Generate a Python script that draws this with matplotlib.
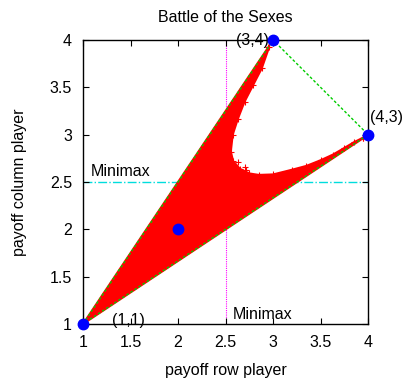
import matplotlib
matplotlib.use('Agg')
import matplotlib.pyplot as plt

plt.rcParams['font.family'] = ['Liberation Sans', 'DejaVu Sans']

# ## Data
# outline of the red payoff region (row payoff, column payoff)
region_x = [1.0, 2.95, 2.96, 2.88, 2.79, 2.70, 2.63, 2.575, 2.555, 2.58, 2.65, 2.75,
            2.85, 3.0, 3.2, 3.35, 3.5, 3.63, 3.75, 3.85, 3.95, 3.95]
region_y = [1.0, 3.925, 3.93, 3.70, 3.525, 3.35, 3.17, 3.0, 2.82, 2.72, 2.64, 2.59,
            2.575, 2.58, 2.63, 2.67, 2.73, 2.79, 2.86, 2.92, 2.97, 2.965]
stray_x = [2.63, 2.70, 2.72]
stray_y = [2.71, 2.66, 2.63]

# convex hull of pure outcomes
hull_x = [1, 3, 4, 1]
hull_y = [1, 4, 3, 1]

# marked points
pts_x = [1, 3, 4, 2]
pts_y = [1, 4, 3, 2]

minimax_row = 2.5
minimax_col = 2.5

ticks = [1, 1.5, 2, 2.5, 3, 3.5, 4]
tick_labels = ['1', '1.5', '2', '2.5', '3', '3.5', '4']

fs = 11.5

fig = plt.figure(figsize=(4.05, 3.78), dpi=100)
ax = fig.add_axes([0.205, 0.143, 0.704, 0.751])

ax.fill(region_x, region_y, color='#ff0000', lw=1.5, ec='#ff0000', zorder=2)
ax.plot(region_x, region_y, '+', color='#ff0000', ms=4, mew=0.8, zorder=2)
ax.plot(stray_x, stray_y, '+', color='#ff0000', ms=5, mew=0.8, zorder=2)
ax.plot(hull_x, hull_y, color='#00cc00', lw=1, ls=(0, (2, 1.5)), zorder=3)

ax.axvline(minimax_row, color='#ff00ff', lw=0.8, ls=(0, (1, 1)), zorder=1)
ax.axhline(minimax_col, color='#00dddd', lw=1, ls='-.', zorder=1)

ax.plot(pts_x, pts_y, 'o', color='#0000ff', ms=7.5, zorder=5, clip_on=False)

ax.text(2.96, 4.0, '(3,4)', ha='right', va='center', fontsize=fs)
ax.text(4.02, 3.1, '(4,3)', ha='left', va='bottom', fontsize=fs)
ax.text(1.30, 1.04, '(1,1)', ha='left', va='center', fontsize=fs)
ax.text(1.08, 2.53, 'Minimax', ha='left', va='bottom', fontsize=fs)
ax.text(2.58, 1.02, 'Minimax', ha='left', va='bottom', fontsize=fs)

ax.set_xlim(1, 4)
ax.set_ylim(1, 4)
ax.set_xticks(ticks)
ax.set_yticks(ticks)
ax.set_xticklabels(tick_labels)
ax.set_yticklabels(tick_labels)
ax.tick_params(direction='in', top=True, right=True, length=4, width=0.8,
               labelsize=fs)
ax.tick_params(axis='x', pad=8)
ax.tick_params(axis='y', pad=8)
for s in ax.spines.values():
    s.set_linewidth(1)

ax.set_title('Battle of the Sexes', fontsize=fs, pad=13)
ax.set_xlabel('payoff row player', fontsize=fs, labelpad=9)
ax.set_ylabel('payoff column player', fontsize=fs, labelpad=16)

plt.savefig('out.png', dpi=100)
plt.close()
